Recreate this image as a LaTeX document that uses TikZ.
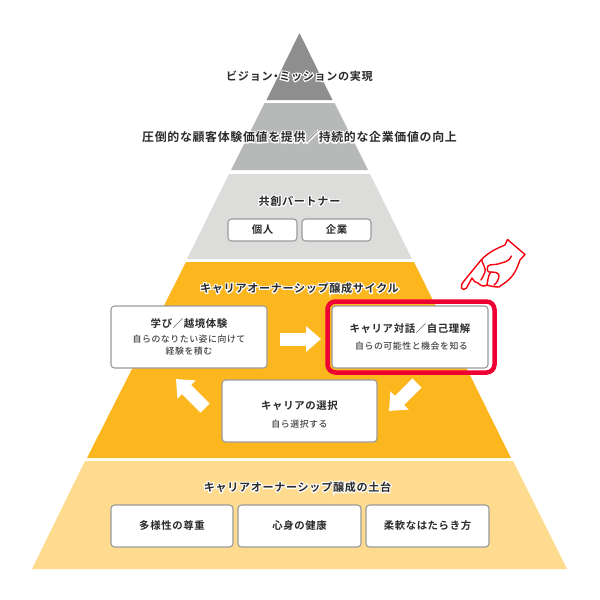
\documentclass[tikz,border=0pt]{standalone}
\usepackage{fontspec}
\usetikzlibrary{arrows.meta}
\newfontfamily\jpm[LetterSpace=6]{Noto Sans CJK JP Medium}
\newfontfamily\jpb[LetterSpace=6,BoldFont={Noto Sans CJK JP Bold}]{Noto Sans CJK JP Bold}
\definecolor{ink}{HTML}{2B2B2B}
\definecolor{subink}{HTML}{444444}
\definecolor{tierA}{HTML}{8E8E8E}
\definecolor{tierB}{HTML}{B7B9B9}
\definecolor{tierC}{HTML}{DCDCDB}
\definecolor{tierD}{HTML}{FDB71E}
\definecolor{tierE}{HTML}{FEDB8E}
\definecolor{edgegray}{HTML}{9A9A9A}
\definecolor{alert}{HTML}{EE0033}
\definecolor{handred}{HTML}{F5000F}
\newcommand{\halo}[1]{\leavevmode\rlap{\special{pdf:code q 1 Tr 2.2 w 1 1 1 RG 1 1 1 rg}#1\special{pdf:code 0 Tr Q}}#1}
\newcommand{\ttl}[1]{{\fontsize{10.4}{13}\selectfont\jpb #1}}
\newcommand{\sbt}[1]{{\fontsize{8.9}{13}\selectfont\jpm\color{subink} #1}}
\tikzset{
  tierhead/.style={font=\fontsize{11.1}{13}\selectfont\jpb,text=ink,inner sep=0pt},
  cardbox/.style={draw=edgegray,line width=1.1pt,fill=white,rounded corners=3.5pt,inner sep=0pt,align=center,text=ink},
  flow/.style={draw=white,line width=13pt,-{Triangle[length=15pt,width=25pt]}}
}
\begin{document}
\begin{tikzpicture}[x=1pt,y=-1pt]
\useasboundingbox (0,0) rectangle (600,600);
\fill[white] (0,0) rectangle (600,600);
% tiers
\fill[tierA] (299.5,33) -- (332.5,100) -- (266.5,100) -- cycle;
\fill[tierB] (264.5,103) -- (334.5,103) -- (368,170) -- (231,170) -- cycle;
\fill[tierC] (229,174) -- (370,174) -- (412,259) -- (187,259) -- cycle;
\fill[tierD] (186,262) -- (414,262) -- (511,458) -- (87,458) -- cycle;
\fill[tierE] (85,461) -- (513,461) -- (567,569) -- (32,569) -- cycle;
% headings
\node[tierhead] (h1) at (299.5,76) {\halo{ビジョン\kern-2.2pt・\kern-2.2ptミッションの実現}};
\node[tierhead,font=\fontsize{11.9}{13}\selectfont\jpb] (h2) at (299.5,137) {\halo{圧倒的な顧客体験価値を提供／持続的な企業価値の向上}};
\node[tierhead] (h3) at (299.5,201) {\halo{共創パートナー}};
\node[tierhead] (h4) at (299.5,288) {\halo{キャリアオーナーシップ醸成サイクル}};
\node[tierhead] (h5) at (297.5,487) {\halo{キャリアオーナーシップ醸成の土台}};
% small cards
\node[cardbox,minimum width=69pt,minimum height=22pt] (kojin) at (262.5,230) {\ttl{個人}};
\node[cardbox,minimum width=69pt,minimum height=22pt] (kigyo) at (336.5,230) {\ttl{企業}};
% cycle cards
\coordinate (rA) at (327.5,301.5);
\coordinate (rB) at (494.5,372.5);
\node[cardbox,minimum width=156pt,minimum height=62pt] (learn) at (189,337) {\raisebox{3.5pt}{\ttl{学び／越境体験}}\\[0pt]\sbt{自らのなりたい姿に向けて}\\[0pt]\sbt{経験を積む}};
\node[cardbox,minimum width=156pt,minimum height=62pt] (talk) at (410,337) {\ttl{キャリア対話／自己理解}\\[5pt]\hspace{3pt}\sbt{自らの可能性と機会を知る}};
\node[cardbox,minimum width=155pt,minimum height=62pt] (choice) at (299.5,411) {\rule{0pt}{15pt}\ttl{キャリアの選択}\\[6pt]\sbt{自ら選択する}};
\draw[alert,line width=4.5pt,rounded corners=8pt] (rA) rectangle (rB);
% foundation cards
\node[cardbox,minimum width=122pt,minimum height=42pt] (f1) at (172,526) {\ttl{多様性の尊重}};
\node[cardbox,minimum width=123pt,minimum height=42pt] (f2) at (299.5,526) {\ttl{心身の健康}};
\node[cardbox,minimum width=123pt,minimum height=42pt] (f3) at (427.5,526) {\ttl{柔軟なはたらき方}};
% flow arrows
\coordinate (a1s) at (280,339); \coordinate (a1e) at (321,339);
\coordinate (a2s) at (417,383); \coordinate (a2e) at (389,411);
\coordinate (a3s) at (205,408); \coordinate (a3e) at (176,379);
\draw[flow] (a1s) -- (a1e);
\draw[flow] (a2s) -- (a2e);
\draw[flow] (a3s) -- (a3e);
% pointing hand
\begin{scope}[handred,line width=1.4pt,line join=round,line cap=round,fill=white]
\filldraw (461.5,288) .. controls (461,285) and (462,283) .. (464,281)
  -- (481.5,259.5) .. controls (490,251) and (498,248) .. (505,245) -- (507.5,239.5)
  -- (525,254.5) -- (520,260) .. controls (517,268) and (515,275) .. (506,282)
  .. controls (503,284) and (502,285) .. (499,287) .. controls (494,287) and (490,286) .. (487,285)
  .. controls (484,287) and (481,286) .. (478,283) .. controls (476,283) and (473,281) .. (472,278)
  -- (466.5,288) .. controls (465,290) and (462,290) .. (461.5,288) -- cycle;
\draw (481.5,259.5) .. controls (483,265) and (486,268) .. (485,272) .. controls (484,275) and (482,278) .. (481,280);
\draw (511.5,256) .. controls (509,262) and (504,262) .. (498,264) .. controls (494,265) and (490,264) .. (488,266);
\draw (488,266) .. controls (486,270) and (488,273) .. (491,272) .. controls (494,272) and (497,272) .. (499,275) .. controls (499,279) and (497,283) .. (494,285);
\draw (491,272) .. controls (488,275) and (488,280) .. (487,285);
\end{scope}
\end{tikzpicture}
\end{document}
